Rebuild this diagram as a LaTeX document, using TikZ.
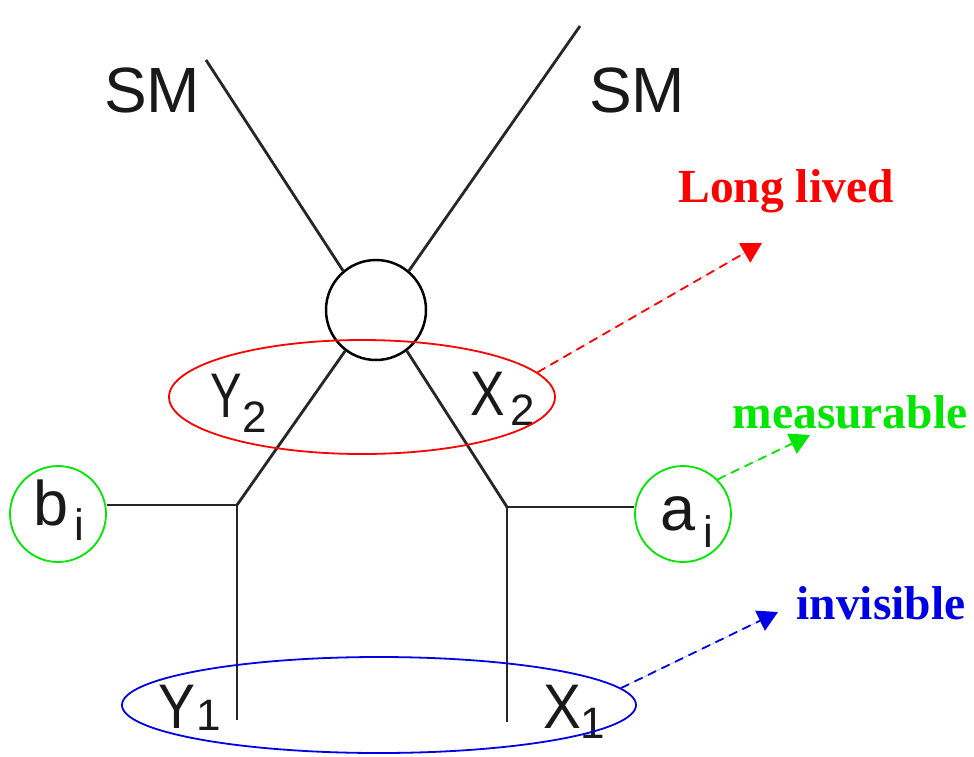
\documentclass[tikz,border=0pt]{standalone}
\usepackage{fontspec}
\setmainfont{Liberation Serif}
\setsansfont{Liberation Sans}
\usetikzlibrary{arrows.meta,shapes.geometric}
\definecolor{lgreen}{RGB}{0,230,0}
\definecolor{lred}{RGB}{255,0,0}
\definecolor{lblue}{RGB}{0,0,230}
% #1 xscale of letter, #2 letter, #3 kern, #4 subscript, #5 drop
\newcommand{\lbl}[5]{{\sffamily\fontsize{63}{63}\selectfont\scalebox{#1}[1]{#2}\kern#3\raisebox{-#5}{\fontsize{44}{44}\selectfont #4}}}
\tikzset{
  line/.style={black!85, line width=2.8pt},
  note/.style={font=\bfseries\fontsize{47.5}{47.5}\selectfont, inner sep=0pt},
  lab/.style={anchor=base west, inner sep=0pt, text=black!90},
  ptr/.style={line width=1.8pt, dash pattern=on 9pt off 6pt, -{Triangle[width=22pt,length=20pt]}},
  ring/.style={circle, draw, line width=1.8pt, minimum size=96pt, inner sep=0pt},
}
\begin{document}
\begin{tikzpicture}[x=1pt,y=-1pt]
\useasboundingbox (0,0) rectangle (974,756);
% blob
\node[circle, draw, line width=2.5pt, minimum size=100pt, inner sep=0pt] (blob) at (376,310) {};
% lines
\coordinate (smL) at (206,60);
\coordinate (smR) at (580,26);
\coordinate (jL) at (237,505);
\coordinate (jR) at (507,507);
\coordinate (eL) at (237,720);
\coordinate (eR) at (507,722);
\draw[line] (smL) -- (blob.130);
\draw[line] (smR) -- (blob.50);
\draw[line] (blob.233) -- (jL);
\draw[line] (blob.307) -- (jR);
\draw[line] (jL) -- (eL);
\draw[line] (jR) -- (eR);
% b_i, a_i
\node[ring, draw=lgreen] (bi) at (58,514) {};
\node[ring, draw=lgreen] (ai) at (683,514) {};
\node[lab] (bit) at (33,525) {\lbl{1}{b}{6pt}{i}{15pt}};
\node[lab] (ait) at (660,530) {\lbl{1}{a}{8pt}{i}{17pt}};
\draw[line] (bi.east |- jL) -- (jL);
\draw[line] (jR) -- (ai.west |- jR);
% texts
\node[anchor=base, inner sep=0pt, text=black!90] (smLt) at (152,112) {\sffamily\fontsize{64}{64}\selectfont SM};
\node[anchor=base, inner sep=0pt, text=black!90] (smRt) at (637,112) {\sffamily\fontsize{64}{64}\selectfont SM};
\node[lab] (y2) at (210,417) {\lbl{0.75}{Y}{1pt}{2}{15pt}};
\node[lab] (x2) at (470,415) {\lbl{0.82}{X}{6pt}{2}{10pt}};
\node[lab] (y1) at (158,728) {\lbl{0.88}{Y}{1pt}{1}{2pt}};
\node[lab] (x1) at (543,728) {\lbl{0.9}{X}{-1pt}{1}{10pt}};
% ellipses
\node[ellipse, draw=lred, line width=1.8pt, minimum width=386pt, minimum height=114pt, inner sep=0pt] (red) at (362,397) {};
\node[ellipse, draw=lblue, line width=1.8pt, minimum width=514pt, minimum height=96pt, inner sep=0pt] (blue) at (379,705) {};
% notes
\node[note, text=lred] (ll) at (786,191) {Long lived};
\node[note, text=lgreen] (ms) at (850,412) {measurable};
\node[note, text=lblue] (inv) at (881,603) {invisible};
\coordinate (tR) at (762,243);
\coordinate (tG) at (810,435);
\coordinate (tB) at (778,612);
\draw[ptr, draw=lred, fill=lred] (red.8) -- (tR);
\draw[ptr, draw=lgreen, fill=lgreen] (ai.45) -- (tG);
\draw[ptr, draw=lblue, fill=lblue] (blue.4) -- (tB);
\end{tikzpicture}
\end{document}
